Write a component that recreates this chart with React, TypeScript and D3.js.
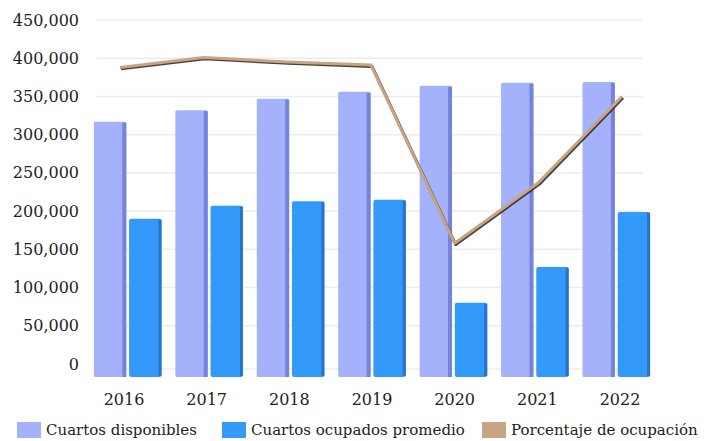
import React from "react";
import * as d3 from "d3";

const years = ["2016", "2017", "2018", "2019", "2020", "2021", "2022"];
const cuartosDisponibles = [317000, 332000, 347000, 356000, 364000, 368000, 369000];
const cuartosOcupados = [190000, 207000, 213000, 215000, 80000, 127000, 199000];
const porcentajeOcupacion = [388000, 401000, 395000, 391000, 158000, 237000, 350000];
const yTicks = [0, 50000, 100000, 150000, 200000, 250000, 300000, 350000, 400000, 450000];
const legendItems = [
  { label: "Cuartos disponibles", color: "#a4b2fb", x: 17 },
  { label: "Cuartos ocupados promedio", color: "#3399fb", x: 222 },
  { label: "Porcentaje de ocupación", color: "#c9a482", x: 482 },
];

const W = 704;
const H = 441;
const FONT = "'DejaVu Serif', serif";

export default function App() {
  const y = d3.scaleLinear().domain([0, 450000]).range([364, 20]);
  const x = d3.scaleBand<string>().domain(years).range([87, 657]).paddingInner(0.17).paddingOuter(0.085);
  const sub = d3.scaleBand<string>().domain(["d", "o"]).range([0, x.bandwidth()]).paddingInner(0.08);
  const xLine = d3.scalePoint<string>().domain(years).range([120, 622]);
  const xLabel = d3.scalePoint<string>().domain(years).range([124, 620]);
  const depth = 13;
  const fmt = d3.format(",");
  const line = d3
    .line<number>()
    .x((_, i) => xLine(years[i]) as number)
    .y((d) => y(d));
  const pathD = line(porcentajeOcupacion) || "";

  return (
    <svg width={W} height={H} style={{ position: "absolute", left: 0, top: 0, background: "#fff" }}>
      <rect width={W} height={H} fill="#fff" />
      {yTicks.map((t) => (
        <g key={t}>
          <line x1={97} x2={643} y1={t === 0 ? y(t) + 5 : y(t)} y2={t === 0 ? y(t) + 5 : y(t)} stroke="#ececec" strokeWidth={1.5} />
          <text x={79} y={y(t) + 1} textAnchor="end" dominantBaseline="middle" fontFamily={FONT} fontSize={16} fill="#222">
            {fmt(t)}
          </text>
        </g>
      ))}
      {years.map((yr, i) => {
        const x0 = x(yr) as number;
        const bw = sub.bandwidth();
        const xd = x0 + (sub("d") as number);
        const xo = x0 + (sub("o") as number);
        const base = y(0) + depth;
        const td = y(cuartosDisponibles[i]);
        const to = y(cuartosOcupados[i]);
        return (
          <g key={yr}>
            <rect x={xd} y={td} width={bw} height={base - td} fill="#a4b2fb" rx={1.5} />
            <rect x={xd + bw - 4} y={td + 1} width={4} height={base - td - 1} fill="#7683dc" />
            <rect x={xo} y={to} width={bw} height={base - to} fill="#3399fb" rx={2} />
            <rect x={xo + bw - 3} y={to + 1} width={3} height={base - to - 2} fill="#2a72cc" />
            <text x={xLabel(yr) as number} y={400} textAnchor="middle" dominantBaseline="middle" fontFamily={FONT} fontSize={16} fill="#222">
              {yr}
            </text>
          </g>
        );
      })}
      <path d={pathD} fill="none" stroke="#2a2018" strokeOpacity={0.85} strokeWidth={3} strokeLinejoin="round" transform="translate(1,1.3)" />
      <path d={pathD} fill="none" stroke="#c9a482" strokeWidth={3} strokeLinejoin="round" />
      {legendItems.map((it) => (
        <g key={it.label}>
          <rect x={it.x} y={422} width={24} height={16} fill={it.color} />
          <text x={it.x + 29} y={431} dominantBaseline="middle" fontFamily={FONT} fontSize={15} fill="#222">
            {it.label}
          </text>
        </g>
      ))}
    </svg>
  );
}
